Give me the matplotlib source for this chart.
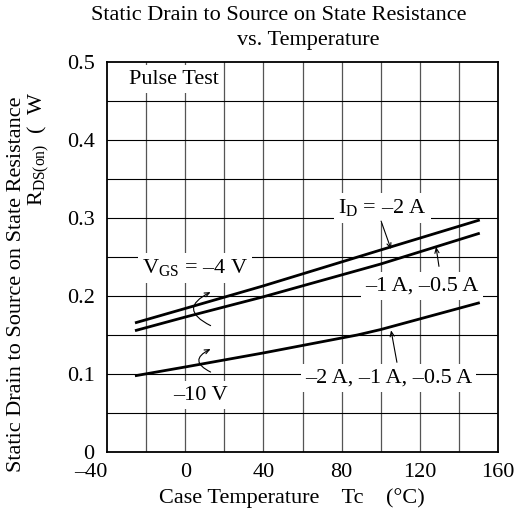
import matplotlib
matplotlib.use('Agg')
import matplotlib.pyplot as plt

plt.rcParams['font.family'] = ['Liberation Serif', 'DejaVu Serif']
plt.rcParams['mathtext.fontset'] = 'custom'
plt.rcParams['mathtext.rm'] = 'Liberation Serif'
plt.rcParams['mathtext.it'] = 'Liberation Serif:italic'

# data
tc = [-25, 0, 40, 100, 150]
r_4v_2a = [0.166, 0.184, 0.213, 0.259, 0.297]
r_4v_1a = [0.156, 0.173, 0.199, 0.241, 0.280]
tc_10v = [-25, 0, 40, 88, 100, 150]
r_10v = [0.098, 0.109, 0.127, 0.150, 0.157, 0.191]

x_ticks = [-40, 0, 40, 80, 120, 160]
x_labels = ['–40', '0', '40', '80', '120', '160']
y_ticks = [0, 0.1, 0.2, 0.3, 0.4, 0.5]
y_labels = ['0', '0.1', '0.2', '0.3', '0.4', '0.5']

fs = 16

fig = plt.figure(figsize=(5.24, 5.18), dpi=100)
ax = fig.add_axes([107/524, 1-452/518, 391/524, 390/518])

for gx in range(-20, 160, 20):
    ax.axvline(gx, color='#555555', lw=0.9, zorder=1)
for gy in [0.05, 0.1, 0.15, 0.2, 0.25, 0.3, 0.35, 0.4, 0.45]:
    ax.axhline(gy, color='black', lw=0.8, zorder=1)

ax.plot(tc, r_4v_2a, color='black', lw=2.0, zorder=3)
ax.plot(tc, r_4v_1a, color='black', lw=2.0, zorder=3)
ax.plot(tc_10v, r_10v, color='black', lw=2.0, zorder=3)

ax.set_xlim(-40, 160)
ax.set_ylim(0, 0.5)
ax.set_xticks(x_ticks)
ax.set_xticklabels(x_labels, fontsize=fs)
ax.set_yticks(y_ticks)
ax.set_yticklabels(y_labels, fontsize=fs)
ax.tick_params(axis='x', length=0, pad=8)
ax.tick_params(axis='y', length=0, pad=9)
ax.get_xticklabels()[0].set_ha('right')
for s in ax.spines.values():
    s.set_linewidth(1.3)

box = dict(facecolor='white', edgecolor='none', pad=3)
ax.text(-28.7, 0.478, 'Pulse Test', fontsize=fs, va='center', ha='left', bbox=box, zorder=4)
ax.text(5, 0.236, 'V$_{\\rm GS}$ = –4 V', fontsize=fs, va='center', ha='center', bbox=box, zorder=4)
ax.text(8, 0.073, '–10 V', fontsize=fs, va='center', ha='center', bbox=box, zorder=4)
ax.text(101, 0.313, 'I$_{\\rm D}$ = –2 A', fontsize=fs, va='center', ha='center', bbox=box, zorder=4)
ax.text(121, 0.213, '–1 A, –0.5 A', fontsize=fs, va='center', ha='center', bbox=box, zorder=4)
ax.text(104, 0.095, '–2 A, –1 A, –0.5 A', fontsize=fs, va='center', ha='center', bbox=box, zorder=4)

arrow = dict(arrowstyle='->,head_length=0.35,head_width=0.15', color='black', lw=0.8,
             shrinkA=0, shrinkB=0)
ax.annotate('', xy=(105.3, 0.260), xytext=(100.2, 0.296), arrowprops=arrow, zorder=5)
ax.annotate('', xy=(128.3, 0.263), xytext=(129.8, 0.238), arrowprops=arrow, zorder=5)
ax.annotate('', xy=(105.3, 0.156), xytext=(108.3, 0.115), arrowprops=arrow, zorder=5)

curl = dict(arrowstyle='->,head_length=0.35,head_width=0.15', color='black', lw=0.8,
            shrinkA=0, shrinkB=0, connectionstyle='arc3,rad=-1.0')
ax.annotate('', xy=(13, 0.205), xytext=(13, 0.162), arrowprops=curl, zorder=5)
ax.annotate('', xy=(13, 0.132), xytext=(13, 0.1025), arrowprops=curl, zorder=5)

fig.text(279/524, 1-15/518, 'Static Drain to Source on State Resistance',
         fontsize=fs, ha='center', va='center')
fig.text(308/524, 1-41/518, 'vs. Temperature', fontsize=fs, ha='center', va='center')
fig.text(17/524, 1-284/518, 'Static Drain to Source on State Resistance',
         fontsize=fs, rotation=90, ha='center', va='center')
fig.text(38/524, 1-92/518, 'R$_{\\rm DS(on)}$  (  W', fontsize=fs, rotation=90,
         ha='center', va='top')
fig.text(292/524, 1-498/518, 'Case Temperature    Tc    (°C)', fontsize=fs,
         ha='center', va='center')

fig.savefig('out.png', dpi=100)
